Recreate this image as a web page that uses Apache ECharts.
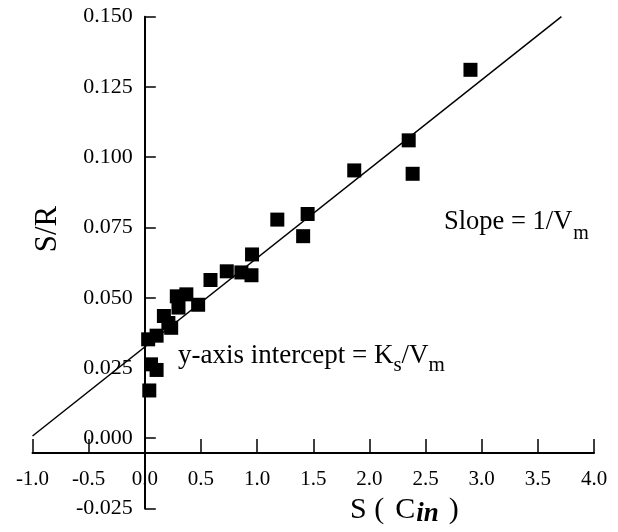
<!DOCTYPE html>
<html>
<head>
<meta charset="utf-8">
<script src="https://cdn.jsdelivr.net/npm/echarts@6/dist/echarts.min.js"></script>
<style>
html, body { margin: 0; padding: 0; background: #fff; }
#chart { width: 618px; height: 532px; }
</style>
</head>
<body>
<div id="chart"></div>
<script>
// S (C_in) of each measured point
var sValues = [0.04, 0.055, 0.105, 0.03, 0.105, 0.17, 0.21, 0.235, 0.285, 0.30, 0.37, 0.475,
    0.585, 0.73, 0.86, 0.95, 0.955, 1.18, 1.45, 1.41, 1.865, 2.35, 2.385, 2.90];
// S/R of each measured point
var srValues = [0.0170, 0.0263, 0.0243, 0.0352, 0.0365, 0.0435, 0.0410, 0.0393, 0.0505, 0.0465, 0.0512, 0.0475,
    0.0563, 0.0594, 0.0590, 0.0580, 0.0654, 0.0778, 0.0798, 0.0719, 0.0953, 0.1060, 0.0941, 0.1311];
// fitted straight line, end points
var fitS = [-1.0, 3.71];
var fitSR = [0.0008, 0.150];
// axis ranges [min, max, interval]
var xRange = [-1.0, 4.0, 0.5];
var yRange = [-0.025, 0.150, 0.025];

var serif = '"Liberation Serif", "DejaVu Serif", serif';

var points = [];
for (var i = 0; i < sValues.length; i++) {
    points.push([sValues[i], srValues[i]]);
}
var fitLine = [[fitS[0], fitSR[0]], [fitS[1], fitSR[1]]];

var gridLeft = 32.5, gridRight = 24;
var gridW = 618 - gridLeft - gridRight;
// y axis drawn at S = 0
var yAxisOffset = -(0 - xRange[0]) / (xRange[1] - xRange[0]) * gridW;

var myChart = echarts.init(document.getElementById('chart'));

var option = {
    animation : false,
    backgroundColor : '#fff',
    grid : {
        left : gridLeft,
        right : gridRight,
        top : 16.7,
        bottom : 23.5,
        outerBoundsMode : 'none'
    },
    xAxis : {
        type : 'value',
        min : xRange[0],
        max : xRange[1],
        interval : xRange[2],
        position : 'bottom',
        offset : -55.5, // x axis sits a little under S/R = 0
        axisLine : {
            onZero : false,
            lineStyle : { color : '#000', width : 2 }
        },
        axisTick : {
            inside : true,
            length : 14,
            lineStyle : { color : '#000', width : 1.5 }
        },
        axisLabel : {
            margin : 16,
            color : '#000',
            fontFamily : serif,
            fontSize : 21,
            formatter : function(v) { return v.toFixed(1); }
        },
        splitLine : { show : false }
    },
    yAxis : {
        type : 'value',
        min : yRange[0],
        max : yRange[1],
        interval : yRange[2],
        position : 'left',
        offset : yAxisOffset,
        axisLine : {
            onZero : false,
            lineStyle : { color : '#000', width : 2 }
        },
        axisTick : {
            inside : true,
            length : 11,
            lineStyle : { color : '#000', width : 1.5 }
        },
        axisLabel : {
            margin : 12,
            color : '#000',
            fontFamily : serif,
            fontSize : 22,
            formatter : function(v) { return v.toFixed(3); }
        },
        splitLine : { show : false }
    },
    series : [{
        type : 'line',
        data : fitLine,
        symbol : 'none',
        lineStyle : { color : '#000', width : 1.5 },
        z : 2
    }, {
        type : 'scatter',
        data : points,
        symbol : 'rect',
        symbolSize : 14,
        itemStyle : { color : '#000', opacity : 1 },
        z : 3
    }],
    graphic : [{
        type : 'text',
        x : 48,
        y : 229,
        rotation : Math.PI / 2,
        style : {
            text : 'S/R',
            font : '31px ' + serif,
            fill : '#000',
            align : 'center',
            verticalAlign : 'middle'
        }
    }, {
        type : 'text',
        x : 444,
        y : 209,
        style : {
            text : '{t|Slope = 1/V}{s|m}',
            fill : '#000',
            align : 'left',
            verticalAlign : 'top',
            rich : {
                t : { fontFamily : serif, fontSize : 26.5, lineHeight : 26, verticalAlign : 'top', fill : '#000' },
                s : { fontFamily : serif, fontSize : 20, lineHeight : 20, verticalAlign : 'top', padding : [15, 0, 0, 1], fill : '#000' }
            }
        }
    }, {
        type : 'text',
        x : 178,
        y : 342,
        style : {
            text : '{t|y-axis intercept = K}{s|s}{t|/V}{s|m}',
            fill : '#000',
            align : 'left',
            verticalAlign : 'top',
            rich : {
                t : { fontFamily : serif, fontSize : 27, lineHeight : 26, verticalAlign : 'top', fill : '#000' },
                s : { fontFamily : serif, fontSize : 21, lineHeight : 20, verticalAlign : 'top', padding : [13, 0, 0, 0], fill : '#000' }
            }
        }
    }, {
        type : 'text',
        x : 350,
        y : 495,
        style : {
            text : '{t|S (}{c|C}{i|in}{r|)}',
            fill : '#000',
            align : 'left',
            verticalAlign : 'top',
            rich : {
                t : { fontFamily : serif, fontSize : 30, lineHeight : 30, verticalAlign : 'top', fill : '#000' },
                c : { fontFamily : serif, fontSize : 30, lineHeight : 30, verticalAlign : 'top', padding : [0, 0, 0, 11], fill : '#000' },
                i : { fontFamily : serif, fontSize : 27, fontStyle : 'italic', fontWeight : 'bold', lineHeight : 27, verticalAlign : 'top', padding : [6, 0, 0, 1], fill : '#000' },
                r : { fontFamily : serif, fontSize : 30, lineHeight : 30, verticalAlign : 'top', padding : [0, 0, 0, 10], fill : '#000' }
            }
        }
    }]
};
myChart.setOption(option);
</script>
</body>
</html>
